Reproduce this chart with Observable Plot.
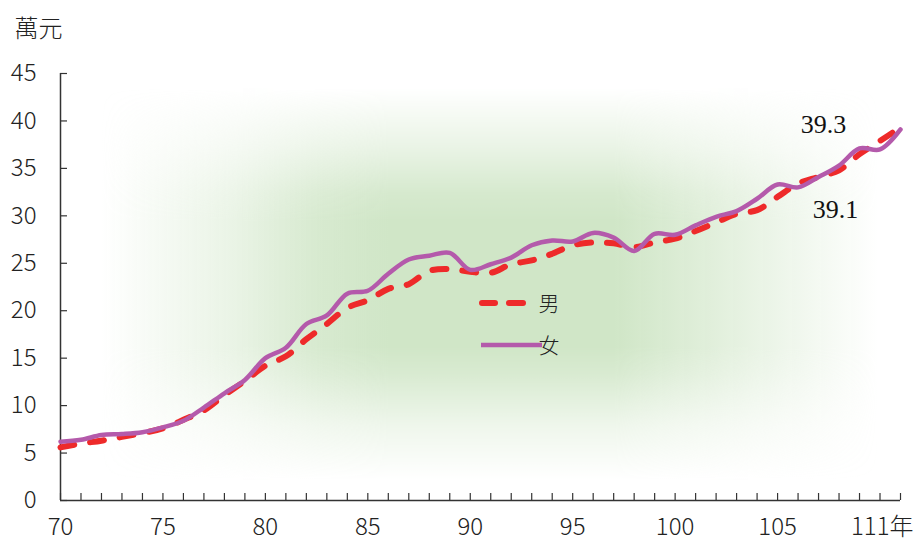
<!DOCTYPE html>
<html><head><meta charset="utf-8">
<script src="https://cdn.jsdelivr.net/npm/d3@7"></script>
<script src="https://cdn.jsdelivr.net/npm/@observablehq/plot@0.6"></script>
<style>
body{margin:0;background:#fff}
#chart{width:918px;height:545px}
</style>
</head><body><div id="chart"></div>
<script>
const years = [70,71,72,73,74,75,76,77,78,79,80,81,82,83,84,85,86,87,88,89,90,91,92,93,94,95,96,97,98,99,100,101,102,103,104,105,106,107,108,109,110,111];
const male = [5.6,6.0,6.3,6.7,7.1,7.6,8.5,9.5,11.1,12.6,14.2,15.2,17.0,18.6,20.3,21.1,22.3,22.8,24.2,24.4,24.1,24.0,24.9,25.3,26.0,26.9,27.2,27.1,26.7,27.2,27.6,28.4,29.3,30.2,30.6,32.0,33.4,34.1,34.8,36.5,37.9,39.3];
const female = [6.2,6.4,6.9,7.0,7.2,7.7,8.4,9.8,11.3,12.7,15.0,16.1,18.6,19.5,21.8,22.1,23.9,25.4,25.8,26.1,24.3,24.9,25.6,26.9,27.4,27.3,28.2,27.7,26.3,28.1,28.0,29.0,29.9,30.5,31.8,33.3,33.0,34.1,35.3,37.1,37.0,39.1];
const yTicks = [0,5,10,15,20,25,30,35,40,45];
const xLabelTicks = [70,75,80,85,90,95,100,105];
const lastYear = 111;
const lastYearLabel = "111年";
const unitLabel = "萬元";
const seriesNames = ["男","女"];
const endLabels = [{year:111, value:39.3, text:"39.3"},{year:111, value:39.1, text:"39.1"}];

const maleRows = years.map((yr,i)=>({year:yr, value:male[i]}));
const femaleRows = years.map((yr,i)=>({year:yr, value:female[i]}));

const W = 918, H = 545, mL = 60, mR = 18, mT = 73, mB = 45;
const fw = W - mL - mR, fh = H - mT - mB;
const font = "'Noto Sans CJK TC', 'Noto Sans', sans-serif";
const axisColor = "#333";

const svg = Plot.plot({
  width: W, height: H,
  marginLeft: mL, marginRight: mR, marginTop: mT, marginBottom: mB,
  x: {domain:[70,111], axis:null},
  y: {domain:[0,45], axis:null},
  style: {background:"transparent", fontFamily: font, color:"#222", overflow:"visible"},
  marks: [
    Plot.ruleY(yTicks, {y:d=>d, insetRight: fw-7, stroke:axisColor, strokeWidth:1.2}),
    Plot.ruleX(years, {x:d=>d, insetTop: fh-7, stroke:axisColor, strokeWidth:1.2}),
    Plot.ruleX([70], {x:d=>d, stroke:axisColor, strokeWidth:1.5}),
    Plot.ruleY([0], {y:d=>d, stroke:axisColor, strokeWidth:1.5}),
    Plot.text(yTicks, {y:d=>d, text:d=>String(d), frameAnchor:"left", dx:-24, textAnchor:"end", lineAnchor:"middle", fontSize:24, fontWeight:300, fill:"#222"}),
    Plot.text(xLabelTicks, {x:d=>d, text:d=>String(d), frameAnchor:"bottom", dy:27, lineAnchor:"middle", fontSize:24, fontWeight:300, fill:"#222"}),
    Plot.text([lastYear], {x:d=>d, text:()=>lastYearLabel, frameAnchor:"bottom", dy:27, dx:13, textAnchor:"end", lineAnchor:"middle", fontSize:24, fontWeight:300, fill:"#222"}),
    Plot.text([unitLabel], {text:d=>d, frameAnchor:"top-left", dx:-46, dy:-44, textAnchor:"start", lineAnchor:"middle", fontSize:24, fontWeight:300, fill:"#222"}),
    Plot.line(maleRows, {x:"year", y:"value", stroke:"#ee2a2a", strokeWidth:6, strokeDasharray:"14,16", strokeLinecap:"round", curve:"catmull-rom"}),
    Plot.line(femaleRows, {x:"year", y:"value", stroke:"#b45aab", strokeWidth:4.5, curve:"catmull-rom"}),
    Plot.text([endLabels[0]], {x:"year", y:"value", text:"text", dx:-77, dy:-3, fontFamily:"'Liberation Serif', serif", fontSize:26, fill:"#111", lineAnchor:"middle"}),
    Plot.text([endLabels[1]], {x:"year", y:"value", text:"text", dx:-65, dy:80, fontFamily:"'Liberation Serif', serif", fontSize:26, fill:"#111", lineAnchor:"middle"})
  ]
});

// background glow (rectangular soft gradient)
const s = d3.select(svg);
const defs = s.insert("defs", ":first-child");
const gh = defs.append("linearGradient").attr("id","gh").attr("x1",0).attr("x2",1).attr("y1",0).attr("y2",0);
[[0,0],[0.17,0.45],[0.28,0.85],[0.37,1],[0.66,1],[0.78,0.65],[1,0]].forEach(([o,a])=>gh.append("stop").attr("offset",o).attr("stop-color","#d0e6c7").attr("stop-opacity",a));
const gv = defs.append("linearGradient").attr("id","gv").attr("x1",0).attr("x2",0).attr("y1",0).attr("y2",1);
[[0,0],[0.15,0.45],[0.27,0.88],[0.34,1],[0.66,1],[0.73,0.82],[0.86,0.35],[1,0]].forEach(([o,a])=>{const c=Math.round(a*255);gv.append("stop").attr("offset",o).attr("stop-color",`rgb(${c},${c},${c})`);});
const bx = 100, by = 88, bw = 780, bh = 392;
defs.append("mask").attr("id","mv").attr("maskUnits","userSpaceOnUse")
  .append("rect").attr("x",bx).attr("y",by).attr("width",bw).attr("height",bh).attr("fill","url(#gv)");
s.insert("rect", "defs + *").attr("x",bx).attr("y",by).attr("width",bw).attr("height",bh).attr("fill","url(#gh)").attr("mask","url(#mv)");

// legend
const lg = s.append("g").attr("font-family", font).attr("font-size", 21).attr("font-weight", 300).attr("fill","#222");
lg.append("line").attr("x1",482).attr("x2",540).attr("y1",303).attr("y2",303)
  .attr("stroke","#ee2a2a").attr("stroke-width",6).attr("stroke-linecap","round").attr("stroke-dasharray","13,14,14,17,0.01,100");
lg.append("line").attr("x1",481).attr("x2",542).attr("y1",345).attr("y2",345)
  .attr("stroke","#b45aab").attr("stroke-width",4.5);
lg.append("text").attr("x",549).attr("y",304).attr("dy","0.35em").text(seriesNames[0]);
lg.append("text").attr("x",549).attr("y",346).attr("dy","0.35em").text(seriesNames[1]);

document.getElementById("chart").appendChild(svg);
</script>
</body></html>
